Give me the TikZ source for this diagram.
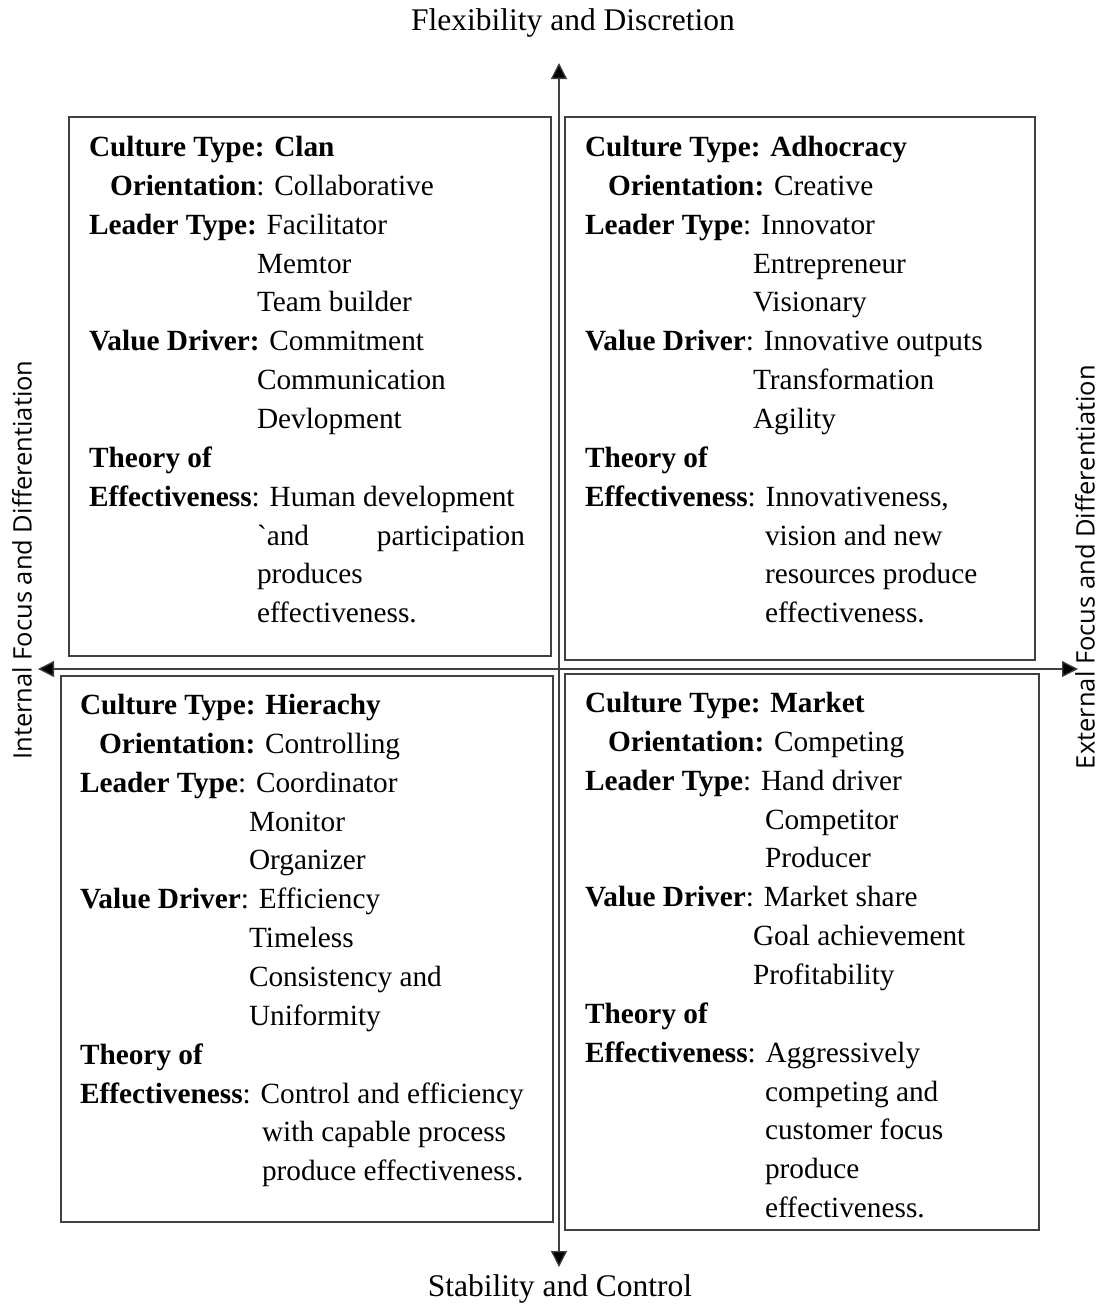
\documentclass[tikz,border=0pt]{standalone}
\usepackage{fontspec}
\setmainfont{Liberation Serif}
\newfontfamily\sidefont{Open Sans}
\usetikzlibrary{arrows.meta}
\begin{document}
\begin{tikzpicture}[x=1pt,y=-1pt,
  qbox/.style={draw=black!75, line width=1.3pt, minimum width=#1, inner sep=0pt, outer sep=0pt, anchor=north west},
  txt/.style={anchor=base west, inner sep=0pt, outer sep=0pt, font=\fontsize{29.3pt}{39pt}\selectfont},
  axislabel/.style={inner sep=0pt, outer sep=0pt, font=\fontsize{31.5pt}{39pt}\selectfont},
  sidelabel/.style={inner sep=0pt, outer sep=0pt, rotate=90, font=\sidefont\fontsize{25.5pt}{30pt}\selectfont},
  axis/.style={draw=black!75, line width=1.3pt, {Triangle[length=16pt,width=16pt,fill=black]}-{Triangle[length=16pt,width=16pt,fill=black]}}
]
\useasboundingbox (0,0) rectangle (1100,1312);
\newcommand\qline[5]{\node[txt] (#1) at (#2,{#3+38.85*#4}) {#5};}

% quadrant boxes
\node[qbox=482pt, minimum height=539pt] (clan) at (69,117) {};
\node[qbox=470pt, minimum height=543pt] (adhoc) at (565,117) {};
\node[qbox=492pt, minimum height=546pt] (hier) at (61,676) {};
\node[qbox=474pt, minimum height=556pt] (market) at (565,674) {};

% axes
\coordinate (top) at (559,63);
\coordinate (bottom) at (559,1267);
\coordinate (left) at (38,669);
\coordinate (right) at (1078,669);
\draw[axis] (bottom) -- (top);
\draw[axis] (left) -- (right);

\node[axislabel] (flex) at (573,23) {Flexibility and Discretion};
\node[axislabel] (stab) at (560,1289) {Stability and Control};
\node[sidelabel] (intl) at (22,560) {Internal Focus and Differentiation};
\node[sidelabel] (extl) at (1085,567) {External Focus and Differentiation};

% Clan
\qline{c1}{89}{156.5}{0}{\textbf{Culture Type: Clan}}
\qline{c2}{110}{156.5}{1}{\textbf{Orientation}: Collaborative}
\qline{c3}{89}{156.5}{2}{\textbf{Leader Type:} Facilitator}
\qline{c4}{257}{156.5}{3}{Memtor}
\qline{c5}{257}{156.5}{4}{Team builder}
\qline{c6}{89}{156.5}{5}{\textbf{Value Driver:} Commitment}
\qline{c7}{257}{156.5}{6}{Communication}
\qline{c8}{257}{156.5}{7}{Devlopment}
\qline{c9}{89}{156.5}{8}{\textbf{Theory of}}
\qline{c10}{89}{156.5}{9}{\textbf{Effectiveness}: Human development}
\qline{c11}{257}{156.5}{10}{\hbox to 268pt{\textasciigrave and\hfill participation}}
\qline{c12}{257}{156.5}{11}{produces}
\qline{c13}{257}{156.5}{12}{effectiveness.}

% Adhocracy
\qline{a1}{585}{156.5}{0}{\textbf{Culture Type: Adhocracy}}
\qline{a2}{608}{156.5}{1}{\textbf{Orientation:} Creative}
\qline{a3}{585}{156.5}{2}{\textbf{Leader Type}: Innovator}
\qline{a4}{753}{156.5}{3}{Entrepreneur}
\qline{a5}{753}{156.5}{4}{Visionary}
\qline{a6}{585}{156.5}{5}{\textbf{Value Driver}: Innovative outputs}
\qline{a7}{753}{156.5}{6}{Transformation}
\qline{a8}{753}{156.5}{7}{Agility}
\qline{a9}{585}{156.5}{8}{\textbf{Theory of}}
\qline{a10}{585}{156.5}{9}{\textbf{Effectiveness}: Innovativeness,}
\qline{a11}{765}{156.5}{10}{vision and new}
\qline{a12}{765}{156.5}{11}{resources produce}
\qline{a13}{765}{156.5}{12}{effectiveness.}

% Hierarchy
\qline{h1}{80}{714.5}{0}{\textbf{Culture Type: Hierachy}}
\qline{h2}{99}{714.5}{1}{\textbf{Orientation:} Controlling}
\qline{h3}{80}{714.5}{2}{\textbf{Leader Type}: Coordinator}
\qline{h4}{249}{714.5}{3}{Monitor}
\qline{h5}{249}{714.5}{4}{Organizer}
\qline{h6}{80}{714.5}{5}{\textbf{Value Driver}: Efficiency}
\qline{h7}{249}{714.5}{6}{Timeless}
\qline{h8}{249}{714.5}{7}{Consistency and}
\qline{h9}{249}{714.5}{8}{Uniformity}
\qline{h10}{80}{714.5}{9}{\textbf{Theory of}}
\qline{h11}{80}{714.5}{10}{\textbf{Effectiveness}: Control and efficiency}
\qline{h12}{262}{714.5}{11}{with capable process}
\qline{h13}{262}{714.5}{12}{produce effectiveness.}

% Market
\qline{m1}{585}{712.5}{0}{\textbf{Culture Type: Market}}
\qline{m2}{608}{712.5}{1}{\textbf{Orientation:} Competing}
\qline{m3}{585}{712.5}{2}{\textbf{Leader Type}: Hand driver}
\qline{m4}{765}{712.5}{3}{Competitor}
\qline{m5}{765}{712.5}{4}{Producer}
\qline{m6}{585}{712.5}{5}{\textbf{Value Driver}: Market share}
\qline{m7}{753}{712.5}{6}{Goal achievement}
\qline{m8}{753}{712.5}{7}{Profitability}
\qline{m9}{585}{712.5}{8}{\textbf{Theory of}}
\qline{m10}{585}{712.5}{9}{\textbf{Effectiveness}: Aggressively}
\qline{m11}{765}{712.5}{10}{competing and}
\qline{m12}{765}{712.5}{11}{customer focus}
\qline{m13}{765}{712.5}{12}{produce}
\qline{m14}{765}{712.5}{13}{effectiveness.}
\end{tikzpicture}
\end{document}
